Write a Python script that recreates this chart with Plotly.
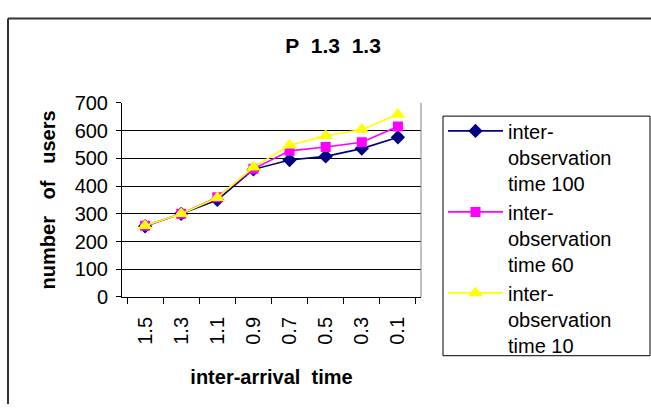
import plotly.graph_objects as go

# ---- data ----
inter_arrival = ["1.5", "1.3", "1.1", "0.9", "0.7", "0.5", "0.3", "0.1"]
obs_time_100 = [255, 300, 350, 460, 494, 507, 535, 576]
obs_time_60 = [257, 300, 360, 462, 527, 541, 558, 615]
obs_time_10 = [257, 300, 358, 468, 547, 581, 604, 658]
series_names = ["inter-<br>observation<br>time 100",
                "inter-<br>observation<br>time 60",
                "inter-<br>observation<br>time 10"]
y_ticks = [0, 100, 200, 300, 400, 500, 600, 700]

W, H = 651, 415
FONT = "Liberation Sans, Arial, sans-serif"

def px(x):
    return x / W

def py(y):
    return 1 - y / H

fig = go.Figure()
styles = [
    dict(color="#000080", symbol="diamond", size=11),
    dict(color="#FF00FF", symbol="square", size=10),
    dict(color="#FFFF00", symbol="triangle-up", size=13),
]
for name, vals, st in zip(series_names, [obs_time_100, obs_time_60, obs_time_10], styles):
    fig.add_trace(go.Scatter(
        x=inter_arrival, y=vals, name=name, mode="lines+markers",
        line=dict(color=st["color"], width=1.6),
        marker=dict(color=st["color"], symbol=st["symbol"], size=st["size"],
                    line=dict(width=0)),
    ))

fig.update_layout(
    width=W, height=H,
    margin=dict(l=0, r=0, t=0, b=0),
    paper_bgcolor="white", plot_bgcolor="white",
    font=dict(family=FONT, color="black"),
    title=dict(text="<b>P&nbsp;&nbsp;1.3&nbsp;&nbsp;1.3</b>", x=px(333), y=py(37),
               xanchor="center", yanchor="middle", xref="paper", yref="paper",
               font=dict(size=21, family=FONT, color="black")),
    xaxis=dict(domain=[px(122), px(421)], type="category",
               tickangle=-90, tickson="boundaries", ticks="outside", ticklen=6,
               tickcolor="black", showline=True, linecolor="black", linewidth=1,
               mirror=False, showgrid=False, tickfont=dict(size=20),
               ticklabelstandoff=11,
               title=dict(text="<b>inter-arrival&nbsp;&nbsp;time</b>", standoff=26,
                          font=dict(size=20))),
    yaxis=dict(domain=[py(302), py(97)], range=[0, 700], tickvals=y_ticks,
               ticks="outside", ticklen=5, tickcolor="black",
               showline=True, linecolor="black", linewidth=1,
               showgrid=True, gridcolor="black", gridwidth=1,
               zeroline=False, tickfont=dict(size=20), ticklabelstandoff=4,
               title=dict(text="<b>number   of   users</b>", standoff=13,
                          font=dict(size=20))),
    legend=dict(x=px(443), y=py(106), xanchor="left", yanchor="top",
                borderwidth=0, bgcolor="rgba(0,0,0,0)",
                font=dict(size=20, family=FONT), itemwidth=55,
                valign="top"),
    showlegend=True,
    shapes=[
        # plot area right border (gray)
        dict(type="line", xref="paper", yref="paper", x0=px(421), x1=px(421),
             y0=py(302), y1=py(97), line=dict(color="#808080", width=1)),
        # legend frame
        dict(type="rect", xref="paper", yref="paper", x0=px(443), x1=px(650),
             y0=py(364), y1=py(111), line=dict(color="black", width=1)),
        # outer chart frame
        dict(type="line", xref="paper", yref="paper", x0=px(8), x1=px(8),
             y0=py(8), y1=py(415), line=dict(color="#333333", width=2)),
        dict(type="line", xref="paper", yref="paper", x0=px(8), x1=1.0,
             y0=py(8), y1=py(8), line=dict(color="#333333", width=2)),
    ],
)

fig.write_html("out.html")
